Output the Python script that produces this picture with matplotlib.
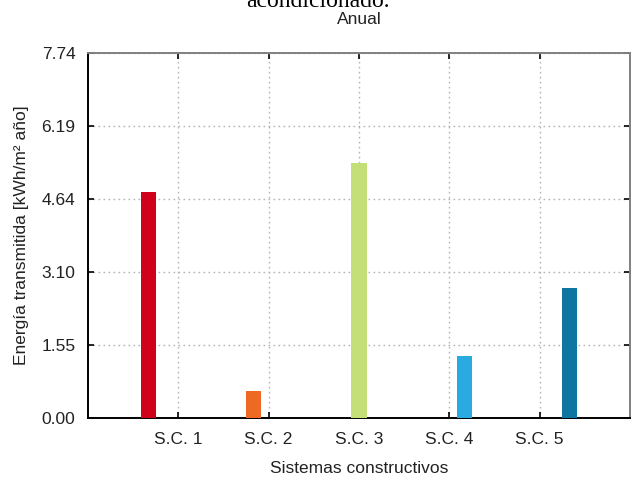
import matplotlib

matplotlib.use("Agg")
import matplotlib.pyplot as plt

# Energía transmitida anual por sistema constructivo
systems = ["S.C. 1", "S.C. 2", "S.C. 3", "S.C. 4", "S.C. 5"]
energy = [4.79, 0.57, 5.40, 1.31, 2.76]
colors = ["#d0021b", "#ee6a24", "#c5df78", "#29abe2", "#0e76a0"]
y_ticks = [0.00, 1.55, 3.10, 4.64, 6.19, 7.74]
y_max = 7.74

plt.rcParams["font.family"] = ["Liberation Sans", "DejaVu Sans"]

fig = plt.figure(figsize=(6.31, 4.78), dpi=100)
ax = fig.add_axes([88 / 631, 60 / 478, 542 / 631, 365 / 478])

# each system is its own series in a 5-bar group, so bars shift across the group
step = 1 / 6
bar_width = 0.17
centers = list(range(1, len(systems) + 1))
for i, (value, color) in enumerate(zip(energy, colors)):
    x = centers[i] + (i - 2) * step
    ax.bar(x, value, width=bar_width, color=color, edgecolor="none", zorder=3)

ax.set_xlim(0, len(systems) + 1)
ax.set_ylim(0, y_max)
ax.set_xticks(centers)
ax.set_xticklabels(systems)
ax.set_yticks(y_ticks)
ax.set_yticklabels([f"{v:.2f}" for v in y_ticks])

ax.grid(True, color="#b4b4b4", linestyle=(0, (1.2, 2.4)), linewidth=1.0, zorder=0)
ax.tick_params(direction="in", length=4, width=1.2, top=True, right=True,
               labelsize=12.5, colors="black", labelcolor="#222222")
ax.tick_params(axis="y", pad=9)
ax.tick_params(axis="x", pad=10)

for side in ("left", "bottom"):
    ax.spines[side].set_color("black")
    ax.spines[side].set_linewidth(1.4)
for side in ("top", "right"):
    ax.spines[side].set_color("#808080")
    ax.spines[side].set_linewidth(1.4)

ax.set_xlabel("Sistemas constructivos", fontsize=12.5, color="#222222", labelpad=10)
ax.set_ylabel("Energía transmitida [kWh/m² año]", fontsize=12.5, color="#222222", labelpad=9)
ax.set_title("Anual", fontsize=12.5, color="#222222", pad=21)

fig.text(318 / 631, 1 - 7 / 478, "acondicionado.", ha="center", va="baseline",
         fontsize=17, family=["Liberation Serif", "DejaVu Serif"], color="black")

fig.savefig("out.png", dpi=100)
plt.close(fig)
